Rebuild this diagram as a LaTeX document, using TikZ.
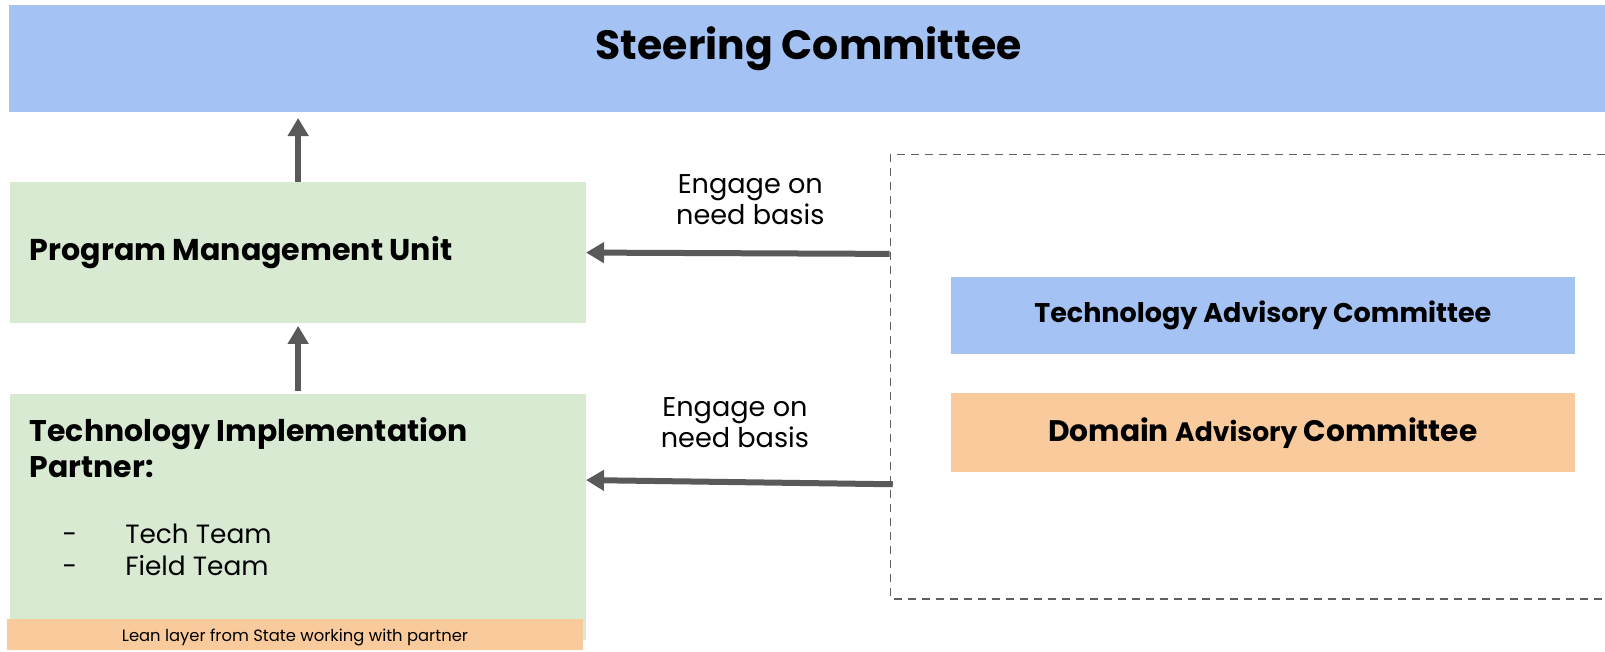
\documentclass[tikz,border=0pt]{standalone}
\usepackage{fontspec}
\setmainfont{Poppins}
\usetikzlibrary{arrows.meta}
\definecolor{sky}{HTML}{A4C2F4}
\definecolor{mint}{HTML}{D9EAD3}
\definecolor{peach}{HTML}{F9CB9C}
\definecolor{arrowgray}{HTML}{595959}
\definecolor{dashgray}{HTML}{5F5F5F}
\begin{document}
\begin{tikzpicture}[x=1pt,y=-1pt,scale=1.0235,every node/.append style={transform shape},
    box/.style={rectangle,inner sep=0pt,anchor=north west},
    link/.style={arrowgray,line width=6pt,-{Triangle[length=18pt,width=20pt]}},
    engage/.style={align=center,font=\fontsize{26.5}{30}\selectfont}]
    \useasboundingbox (0,0) rectangle (1568,636);
    \node [box,fill=sky,minimum width=1600pt,minimum height=104pt] (steer) at (9,5) {};
    \node [font=\fontsize{40}{44}\selectfont\bfseries] (steerlbl) at (790,48) {Steering Committee};
    \node [box,fill=mint,minimum width=562pt,minimum height=137pt] (pmu) at (10,178) {};
    \node [anchor=west,inner sep=0pt,font=\fontsize{29.4}{33}\selectfont\bfseries] (pmulbl) at (29,247) {Program Management Unit};
    \node [box,fill=mint,minimum width=562pt,minimum height=240pt] (tip) at (10,385) {};
    \node [box,align=left,font=\fontsize{29.2}{35}\selectfont\bfseries] (tiplbl) at (29,408) {Technology Implementation\\Partner:};
    \node [box,font=\fontsize{25.8}{31}\selectfont] (tiplist) at (61,509)
        {\begin{tabular}{@{}l@{\hspace{47pt}}l@{}} - & Tech Team\\ - & Field Team\end{tabular}};
    \node [box,fill=peach,minimum width=562pt,minimum height=30pt,text depth=0pt,font=\fontsize{16}{18}\selectfont] (lean) at (7,605) {Lean layer from State working with partner};
    \node [box,draw=dashgray,line width=1.8pt,dash pattern=on 8pt off 6pt,minimum width=780pt,minimum height=434pt] (adv) at (869,150) {};
    \node [box,fill=sky,minimum width=609pt,minimum height=76pt,font=\fontsize{26.4}{30}\selectfont\bfseries] (tac) at (929,270) {Technology Advisory Committee};
    \node [box,fill=peach,minimum width=609pt,minimum height=77pt,font=\fontsize{29}{33}\selectfont\bfseries] (dac) at (929,384)
        {Domain {\fontsize{26}{30}\selectfont Advisory} Committee};
    \coordinate (ea) at (869,248);
    \coordinate (eb) at (872,473);
    \draw [link,shorten >=6pt] (pmu.north) -- (pmu.north |- steer.south);
    \draw [link,shorten <=3pt,shorten >=3pt] (tip.north) -- (pmu.south);
    \draw [link] (ea) -- (pmu.east);
    \draw [link] (eb) -- (tip.east |- 0,469);
    \node [engage] (lbla) at (733,195) {Engage on\\need basis};
    \node [engage] (lblb) at (718,413) {Engage on\\need basis};
\end{tikzpicture}
\end{document}
